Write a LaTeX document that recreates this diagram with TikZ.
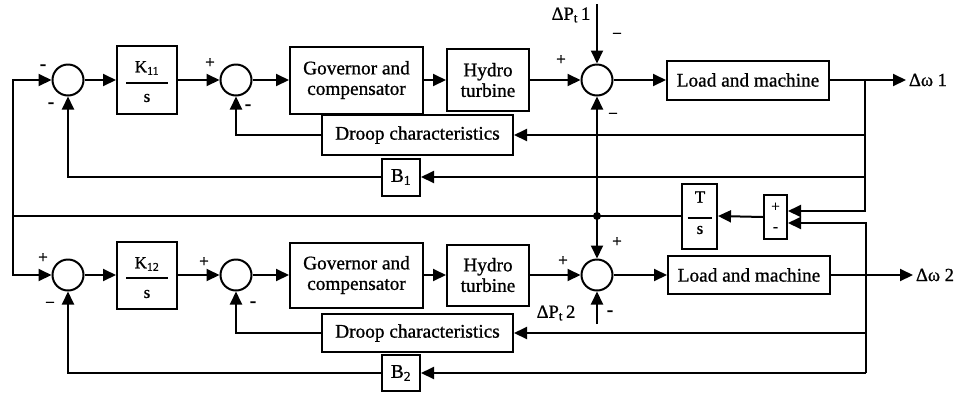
\documentclass[tikz,border=0pt]{standalone}
\usepackage{fontspec}
\setmainfont[FakeBold=0.9]{Liberation Serif}
\usetikzlibrary{arrows.meta}
\begin{document}
\begin{tikzpicture}[x=1pt,y=-1pt,line width=2pt,
  arr/.style={-{Triangle[length=13pt,width=12pt]}},
  blk/.style={draw,line width=2pt,inner sep=0pt,align=center,font=\fontsize{19.3}{20.5}\selectfont},
  sumc/.style={draw,circle,minimum size=31pt,inner sep=0pt,line width=2pt},
  sgn/.style={font=\fontsize{17}{17}\selectfont,inner sep=0pt},
  sgb/.style={font=\bfseries\fontsize{19}{19}\selectfont,inner sep=0pt},
  lbl/.style={font=\fontsize{18.5}{18.5}\selectfont,inner sep=0pt},
  frac/.style={font=\fontsize{17}{17}\selectfont,inner sep=0pt}]
\useasboundingbox (0,0) rectangle (959,392);
% ---------- top row ----------
\node[sumc] (s1) at (68,80) {};
\node[blk,minimum width=60pt,minimum height=68pt] (k1) at (147,80) {};
\node[frac] (k1n) at (147,68) {K\textsubscript{11}};
\node[frac] (k1d) at (147,98) {s};
\draw ([xshift=-21pt,yshift=-3pt]k1.center) -- ([xshift=21pt,yshift=-3pt]k1.center);
\node[sumc] (s2) at (236,80) {};
\node[blk,minimum width=133pt,minimum height=67pt] (g1) at (356.5,80) {Governor and\\compensator};
\node[blk,minimum width=82pt,minimum height=62pt] (h1) at (488,80) {Hydro\\turbine};
\node[sumc] (s3) at (597,80) {};
\node[blk,minimum width=162pt,minimum height=39pt] (l1) at (748,80) {Load and machine};
\coordinate (o1) at (906,80);
\node[lbl,anchor=west] (w1) at (908,80) {Δω 1};
\coordinate (br1) at (865,80);
\node[blk,minimum width=191pt,minimum height=40pt] (d1) at (417.5,135) {Droop characteristics};
\node[blk,minimum width=38pt,minimum height=37pt] (b1) at (401,177) {B\textsubscript{1}};
\coordinate (p1) at (597,4);
\node[lbl] (dp1) at (571,15) {ΔP\textsubscript{t}\,1};
% ---------- tie line ----------
\node[blk,minimum width=35pt,minimum height=65pt] (ts) at (699.5,216) {};
\node[frac] (tsn) at (700,197) {T};
\node[frac] (tsd) at (700,230) {s};
\draw ([xshift=-12pt,yshift=-2pt]ts.center) -- ([xshift=12pt,yshift=-2pt]ts.center);
\node[blk,minimum width=23pt,minimum height=44pt,font=\fontsize{15}{20}\selectfont] (pm) at (775.5,217) {+\\\textbf{-}};
\node[circle,fill,inner sep=0pt,minimum size=8pt] (dot) at (597,216) {};
\coordinate (lt) at (13,216);
% ---------- bottom row ----------
\node[sumc] (s4) at (68,275) {};
\node[blk,minimum width=60pt,minimum height=67pt] (k2) at (147,275) {};
\node[frac] (k2n) at (147,264) {K\textsubscript{12}};
\node[frac] (k2d) at (147,294) {s};
\draw ([xshift=-21pt,yshift=-3pt]k2.center) -- ([xshift=21pt,yshift=-3pt]k2.center);
\node[sumc] (s5) at (236,275) {};
\node[blk,minimum width=133pt,minimum height=65pt] (g2) at (356.5,275) {Governor and\\compensator};
\node[blk,minimum width=82pt,minimum height=61pt] (h2) at (488,275) {Hydro\\turbine};
\node[sumc] (s6) at (597,275) {};
\node[blk,minimum width=162pt,minimum height=38pt] (l2) at (749,275) {Load and machine};
\coordinate (o2) at (913,275);
\node[lbl,anchor=west] (w2) at (915,275) {Δω 2};
\coordinate (br2) at (866,275);
\node[blk,minimum width=191pt,minimum height=38pt] (d2) at (417.5,333) {Droop characteristics};
\node[blk,minimum width=38pt,minimum height=36pt] (b2) at (401,373) {B\textsubscript{2}};
\coordinate (p2) at (597,324);
\node[lbl] (dp2) at (556,313) {ΔP\textsubscript{t}\,2};
% ---------- connectors top ----------
\draw[arr] (s1) -- (k1);
\draw[arr] (k1) -- (s2);
\draw[arr] (s2) -- (g1);
\draw[arr] (g1) -- (h1);
\draw[arr] (h1) -- (s3);
\draw[arr] (s3) -- (l1);
\draw[arr] (l1) -- (o1);
\draw[arr] (br1) |- ([yshift=6pt]pm.east);
\draw[arr] (br1 |- d1.east) -- (d1.east);
\draw[arr] (br1 |- b1.east) -- (b1.east);
\draw[arr] (d1.west) -| (s2.south);
\draw[arr] (b1.west) -| (s1.south);
\draw[arr] (p1) -- (s3.north);
% ---------- tie connectors ----------
\draw[arr] (pm.west) -- (ts.east);
\draw (ts.west) -- (dot.center) -- (lt);
\draw[arr] (lt) |- (s1.west);
\draw[arr] (lt) |- (s4.west);
\draw[arr] (dot.center) -- (s3.south);
\draw[arr] (dot.center) -- (s6.north);
% ---------- connectors bottom ----------
\draw[arr] (s4) -- (k2);
\draw[arr] (k2) -- (s5);
\draw[arr] (s5) -- (g2);
\draw[arr] (g2) -- (h2);
\draw[arr] (h2) -- (s6);
\draw[arr] (s6) -- (l2);
\draw[arr] (l2) -- (o2);
\draw[arr] (br2) |- ([yshift=-6pt]pm.east);
\draw (br2) -- (br2 |- b2.east);
\draw[arr] (br2 |- d2.east) -- (d2.east);
\draw[arr] (br2 |- b2.east) -- (b2.east);
\draw[arr] (d2.west) -| (s5.south);
\draw[arr] (b2.west) -| (s4.south);
\draw[arr] (p2) -- (s6.south);
% ---------- signs ----------
\node[sgb] (g11) at (43,67) {-};
\node[sgb] (g12) at (51,105) {-};
\node[sgn] (g21) at (210,63) {+};
\node[sgb] (g22) at (248,107) {-};
\node[sgn] (g31) at (561,60) {+};
\node[sgn] (g32) at (617,36) {−};
\node[sgn] (g33) at (613,116) {−};
\node[sgn] (g41) at (43,258) {+};
\node[sgn] (g42) at (50,305) {−};
\node[sgn] (g51) at (204,262) {+};
\node[sgb] (g52) at (253,304) {-};
\node[sgn] (g61) at (563,261) {+};
\node[sgn] (g62) at (617,242) {+};
\node[sgb] (g63) at (610,313) {-};
\end{tikzpicture}
\end{document}
